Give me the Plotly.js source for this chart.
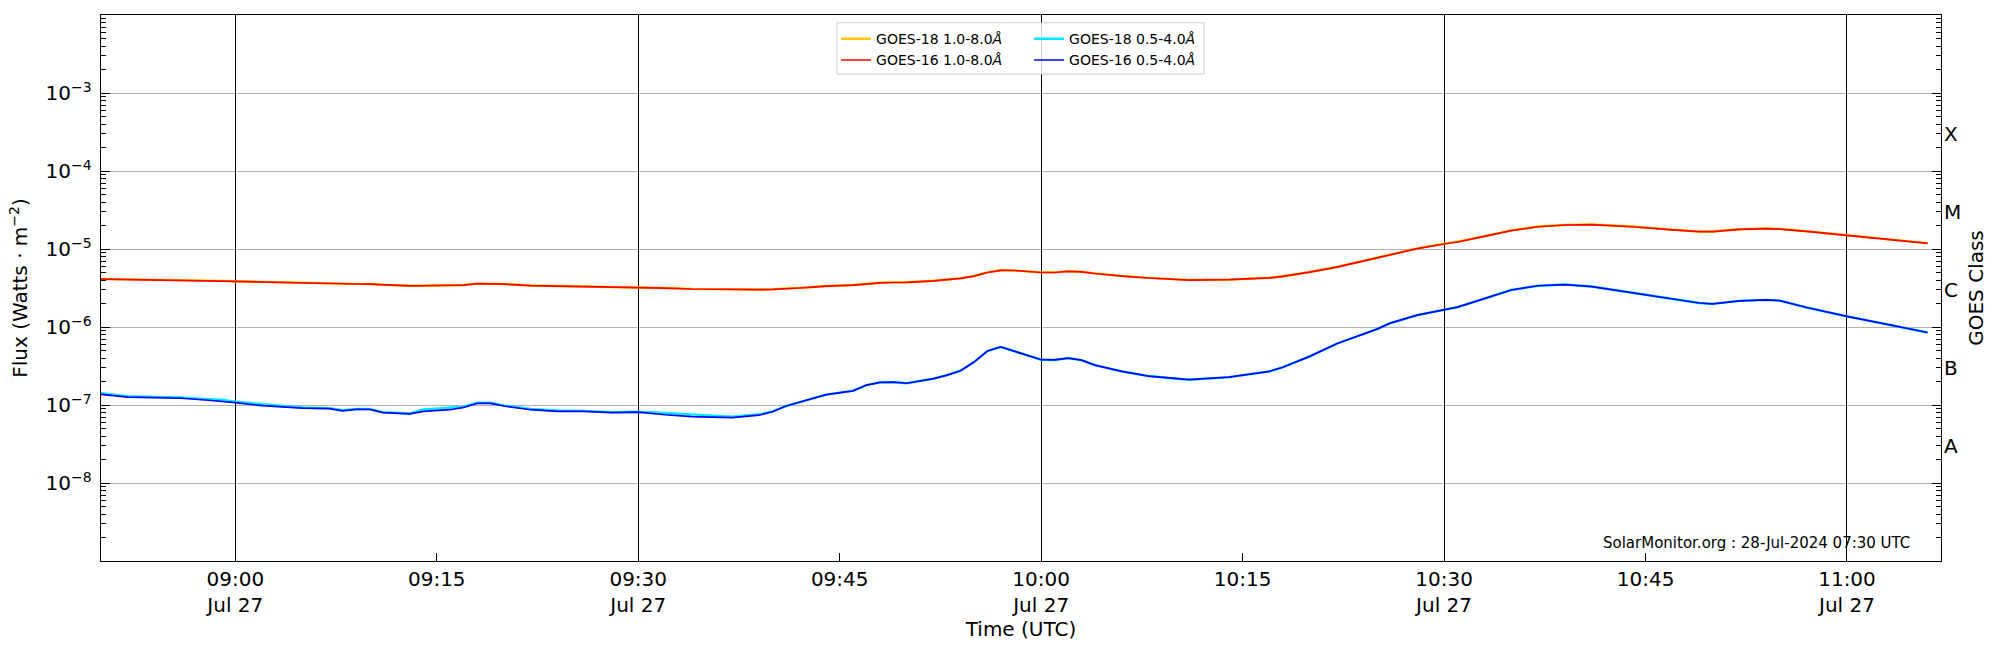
<!DOCTYPE html>
<html>
<head>
<meta charset="utf-8">
<script src="https://cdn.plot.ly/plotly-3.0.1.min.js"></script>
<style>
  html, body { margin: 0; padding: 0; background: #ffffff; }
  #goes-plot { width: 2000px; height: 650px; }
</style>
</head>
<body>
<div id="goes-plot"></div>
<script>
(function () {
    'use strict';

    const DAY = '2024-07-27';

    // Sample times (UTC, 27 Jul 2024)
    const TIMES = [
        '08:50', '08:52', '08:54', '08:56', '08:58', '08:59', '09:00', '09:02', '09:04', '09:05',
        '09:07', '09:08', '09:09', '09:10', '09:11', '09:13', '09:14', '09:16', '09:17', '09:18',
        '09:19', '09:20', '09:22', '09:24', '09:26', '09:28', '09:30', '09:32', '09:34', '09:36',
        '09:37', '09:39', '09:40', '09:41', '09:42', '09:43', '09:44', '09:46', '09:47', '09:48',
        '09:49', '09:50', '09:52', '09:53', '09:54', '09:55', '09:56', '09:57', '09:58', '09:59',
        '10:00', '10:01', '10:02', '10:03', '10:04', '10:06', '10:08', '10:11', '10:14', '10:17',
        '10:18', '10:20', '10:22', '10:25', '10:26', '10:28', '10:30', '10:31', '10:33', '10:35',
        '10:37', '10:39', '10:41', '10:44', '10:47', '10:49', '10:50', '10:52', '10:54', '10:55',
        '10:57', '11:00', '11:03', '11:06'
    ];

    // GOES-16 1.0-8.0 A (W/m^2)
    const G16_LONG = [
        4.12e-6, 4.08e-6, 4.05e-6, 4.02e-6, 3.92e-6, 3.88e-6, 3.84e-6, 3.76e-6, 3.68e-6, 3.66e-6,
        3.60e-6, 3.56e-6, 3.56e-6, 3.55e-6, 3.46e-6, 3.36e-6, 3.38e-6, 3.42e-6, 3.45e-6, 3.59e-6,
        3.59e-6, 3.55e-6, 3.40e-6, 3.36e-6, 3.33e-6, 3.28e-6, 3.22e-6, 3.15e-6, 3.07e-6, 3.02e-6,
        3.01e-6, 3.01e-6, 3.04e-6, 3.08e-6, 3.16e-6, 3.25e-6, 3.35e-6, 3.45e-6, 3.58e-6, 3.68e-6,
        3.72e-6, 3.73e-6, 3.90e-6, 4.02e-6, 4.20e-6, 4.50e-6, 5.00e-6, 5.32e-6, 5.30e-6, 5.15e-6,
        5.00e-6, 5.00e-6, 5.18e-6, 5.10e-6, 4.85e-6, 4.50e-6, 4.25e-6, 4.00e-6, 4.05e-6, 4.26e-6,
        4.45e-6, 5.05e-6, 5.85e-6, 7.70e-6, 8.40e-6, 1.01e-5, 1.16e-5, 1.23e-5, 1.45e-5, 1.72e-5,
        1.93e-5, 2.03e-5, 2.05e-5, 1.93e-5, 1.76e-5, 1.67e-5, 1.67e-5, 1.78e-5, 1.82e-5, 1.80e-5,
        1.68e-5, 1.51e-5, 1.33e-5, 1.18e-5
    ];

    // GOES-18 1.0-8.0 A (W/m^2)
    const G18_LONG = [
        4.14e-6, 4.10e-6, 4.07e-6, 4.03e-6, 3.94e-6, 3.90e-6, 3.86e-6, 3.78e-6, 3.70e-6, 3.67e-6,
        3.61e-6, 3.57e-6, 3.57e-6, 3.56e-6, 3.47e-6, 3.38e-6, 3.39e-6, 3.43e-6, 3.46e-6, 3.60e-6,
        3.60e-6, 3.56e-6, 3.41e-6, 3.37e-6, 3.34e-6, 3.29e-6, 3.23e-6, 3.16e-6, 3.08e-6, 3.03e-6,
        3.02e-6, 3.02e-6, 3.05e-6, 3.09e-6, 3.17e-6, 3.26e-6, 3.36e-6, 3.46e-6, 3.59e-6, 3.69e-6,
        3.73e-6, 3.74e-6, 3.91e-6, 4.03e-6, 4.22e-6, 4.52e-6, 5.02e-6, 5.34e-6, 5.32e-6, 5.17e-6,
        5.02e-6, 5.02e-6, 5.20e-6, 5.12e-6, 4.87e-6, 4.52e-6, 4.27e-6, 4.02e-6, 4.07e-6, 4.28e-6,
        4.47e-6, 5.07e-6, 5.88e-6, 7.73e-6, 8.43e-6, 1.02e-5, 1.17e-5, 1.24e-5, 1.46e-5, 1.73e-5,
        1.94e-5, 2.04e-5, 2.06e-5, 1.94e-5, 1.77e-5, 1.68e-5, 1.68e-5, 1.79e-5, 1.83e-5, 1.81e-5,
        1.69e-5, 1.52e-5, 1.34e-5, 1.19e-5
    ];

    // GOES-16 0.5-4.0 A (W/m^2)
    const G16_SHORT = [
        1.37e-7, 1.26e-7, 1.24e-7, 1.22e-7, 1.15e-7, 1.12e-7, 1.07e-7, 0.98e-7, 0.93e-7, 0.91e-7,
        0.90e-7, 0.84e-7, 0.88e-7, 0.88e-7, 0.80e-7, 0.77e-7, 0.83e-7, 0.87e-7, 0.93e-7, 1.05e-7,
        1.05e-7, 0.97e-7, 0.87e-7, 0.83e-7, 0.83e-7, 0.80e-7, 0.81e-7, 0.75e-7, 0.71e-7, 0.69e-7,
        0.69e-7, 0.74e-7, 0.82e-7, 0.97e-7, 1.09e-7, 1.20e-7, 1.36e-7, 1.52e-7, 1.80e-7, 1.95e-7,
        1.96e-7, 1.90e-7, 2.18e-7, 2.42e-7, 2.75e-7, 3.55e-7, 4.92e-7, 5.55e-7, 4.92e-7, 4.28e-7,
        3.81e-7, 3.78e-7, 4.00e-7, 3.76e-7, 3.25e-7, 2.70e-7, 2.35e-7, 2.11e-7, 2.28e-7, 2.70e-7,
        3.05e-7, 4.20e-7, 6.10e-7, 9.40e-7, 1.12e-6, 1.42e-6, 1.67e-6, 1.80e-6, 2.31e-6, 2.98e-6,
        3.38e-6, 3.50e-6, 3.30e-6, 2.73e-6, 2.28e-6, 2.03e-6, 1.98e-6, 2.16e-6, 2.23e-6, 2.18e-6,
        1.78e-6, 1.37e-6, 1.08e-6, 8.50e-7
    ];

    // GOES-18 0.5-4.0 A (W/m^2)
    const G18_SHORT = [
        1.42e-7, 1.30e-7, 1.27e-7, 1.25e-7, 1.19e-7, 1.17e-7, 1.10e-7, 1.03e-7, 0.96e-7, 0.93e-7,
        0.91e-7, 0.86e-7, 0.89e-7, 0.89e-7, 0.81e-7, 0.78e-7, 0.88e-7, 0.92e-7, 0.95e-7, 1.07e-7,
        1.07e-7, 0.99e-7, 0.89e-7, 0.85e-7, 0.84e-7, 0.81e-7, 0.82e-7, 0.79e-7, 0.76e-7, 0.72e-7,
        0.71e-7, 0.76e-7, 0.83e-7, 0.97e-7, 1.09e-7, 1.20e-7, 1.36e-7, 1.53e-7, 1.80e-7, 1.95e-7,
        1.96e-7, 1.90e-7, 2.18e-7, 2.42e-7, 2.75e-7, 3.55e-7, 4.92e-7, 5.55e-7, 4.92e-7, 4.28e-7,
        3.81e-7, 3.78e-7, 4.00e-7, 3.76e-7, 3.25e-7, 2.70e-7, 2.35e-7, 2.11e-7, 2.28e-7, 2.70e-7,
        3.05e-7, 4.20e-7, 6.10e-7, 9.40e-7, 1.12e-6, 1.42e-6, 1.67e-6, 1.80e-6, 2.31e-6, 2.98e-6,
        3.38e-6, 3.50e-6, 3.30e-6, 2.73e-6, 2.28e-6, 2.03e-6, 1.98e-6, 2.16e-6, 2.23e-6, 2.18e-6,
        1.78e-6, 1.37e-6, 1.08e-6, 8.50e-7
    ];

    // X axis ticks
    const TICK_TIMES = ['09:00', '09:15', '09:30', '09:45', '10:00', '10:15', '10:30', '10:45', '11:00'];
    const TICK_TEXT = ['09:00<br>Jul 27', '09:15', '09:30<br>Jul 27', '09:45', '10:00<br>Jul 27',
                       '10:15', '10:30<br>Jul 27', '10:45', '11:00<br>Jul 27'];
    const HALF_HOURS = ['09:00', '09:30', '10:00', '10:30', '11:00'];
    const X_RANGE = ['08:50', '11:07'];

    // Y axis (flux) ticks
    const FLUX_TICKS = [1e-8, 1e-7, 1e-6, 1e-5, 1e-4, 1e-3];
    const FLUX_TEXT = ['10<sup>−8</sup>', '10<sup>−7</sup>', '10<sup>−6</sup>',
                       '10<sup>−5</sup>', '10<sup>−4</sup>', '10<sup>−3</sup>'];
    const DECADES = [1e-9, 1e-8, 1e-7, 1e-6, 1e-5, 1e-4, 1e-3];
    const MINOR_STEPS = [2, 3, 4, 5, 6, 7, 8, 9];
    const Y_RANGE_LOG = [-9, -2];

    // GOES flare classes on the right
    const CLASS_LEVELS = [3e-8, 3e-7, 3e-6, 3e-5, 3e-4];
    const CLASS_LABELS = ['A', 'B', 'C', 'M', 'X'];

    const FONT = 'DejaVu Sans, Liberation Sans, sans-serif';
    const COLORS = {
        g18Long: '#ffc800',
        g16Long: '#ff0000',
        g18Short: '#00e8ff',
        g16Short: '#0000ff',
        grid: '#b0b0b0',
        frame: '#000000'
    };

    const stamp = t => DAY + ' ' + t;
    const x = TIMES.map(stamp);
    const minorTicks = [];
    DECADES.forEach(d => MINOR_STEPS.forEach(m => minorTicks.push(d * m)));

    function line(y, name, color, width, legend, xa, ya) {
        return {
            x: x, y: y, name: name, type: 'scatter', mode: 'lines',
            line: { color: color, width: width },
            legend: legend, xaxis: xa, yaxis: ya,
            hoverinfo: 'x+y+name'
        };
    }

    // GOES-18 on the base axes, GOES-16 on the overlay axes so it is drawn on top
    const traces = [
        line(G18_LONG, 'GOES-18 1.0-8.0<i>Å</i>', COLORS.g18Long, 2.4, 'legend', 'x', 'y'),
        line(G18_SHORT, 'GOES-18 0.5-4.0<i>Å</i>', COLORS.g18Short, 2.4, 'legend2', 'x', 'y'),
        line(G16_LONG, 'GOES-16 1.0-8.0<i>Å</i>', COLORS.g16Long, 1.7, 'legend', 'x2', 'y2'),
        line(G16_SHORT, 'GOES-16 0.5-4.0<i>Å</i>', COLORS.g16Short, 1.7, 'legend2', 'x2', 'y2')
    ];

    const legendBase = {
        y: 0.985, yanchor: 'top', xanchor: 'left',
        bgcolor: 'rgba(0,0,0,0)', borderwidth: 0,
        font: { family: FONT, size: 14, color: '#000' },
        traceorder: 'normal', orientation: 'v'
    };

    const layout = {
        width: 2000,
        height: 650,
        paper_bgcolor: '#ffffff',
        plot_bgcolor: '#ffffff',
        font: { family: FONT, size: 20, color: '#000' },
        margin: { l: 101, r: 59, t: 15, b: 89 },
        showlegend: true,
        legend: { ...legendBase, x: 0.3995 },
        legend2: { ...legendBase, x: 0.5044 },
        xaxis: {
            type: 'date',
            range: X_RANGE.map(stamp),
            tickmode: 'array',
            tickvals: TICK_TIMES.map(stamp),
            ticktext: TICK_TEXT,
            ticks: 'inside', ticklen: 8, tickwidth: 1, tickcolor: COLORS.frame,
            showgrid: false, zeroline: false,
            showline: true, linecolor: COLORS.frame, linewidth: 1.3, mirror: true,
            tickfont: { size: 20 },
            title: { text: 'Time (UTC)', font: { size: 20 }, standoff: 0 },
            automargin: false
        },
        xaxis2: {
            type: 'date',
            overlaying: 'x',
            anchor: 'y2',
            range: X_RANGE.map(stamp),
            tickmode: 'array',
            tickvals: HALF_HOURS.map(stamp),
            showticklabels: false, ticks: '',
            showgrid: true, gridcolor: COLORS.frame, gridwidth: 1,
            showline: false, zeroline: false
        },
        yaxis: {
            type: 'log',
            range: Y_RANGE_LOG,
            tickmode: 'array',
            tickvals: FLUX_TICKS,
            ticktext: FLUX_TEXT,
            ticks: 'inside', ticklen: 9, tickwidth: 1, tickcolor: COLORS.frame,
            minor: {
                tickmode: 'array', tickvals: minorTicks,
                ticks: 'inside', ticklen: 5, tickwidth: 1, tickcolor: COLORS.frame, showgrid: false
            },
            showgrid: true, gridcolor: COLORS.grid, gridwidth: 1,
            zeroline: false,
            showline: true, linecolor: COLORS.frame, linewidth: 1.3, mirror: 'ticks',
            tickfont: { size: 20 },
            ticklabelstandoff: 4,
            title: { text: 'Flux (Watts · m<sup>−2</sup>)', font: { size: 20 }, standoff: 12 },
            automargin: false
        },
        yaxis2: {
            type: 'log',
            overlaying: 'y',
            side: 'right',
            anchor: 'x2',
            range: Y_RANGE_LOG,
            tickmode: 'array',
            tickvals: CLASS_LEVELS,
            ticktext: CLASS_LABELS,
            ticks: '',
            minor: {
                tickmode: 'array', tickvals: minorTicks,
                ticks: 'inside', ticklen: 5, tickwidth: 1, tickcolor: COLORS.frame, showgrid: false
            },
            showgrid: false, zeroline: false, showline: false,
            tickfont: { size: 20 },
            ticklabelstandoff: 2,
            title: { text: 'GOES Class', font: { size: 20 }, standoff: 8 },
            automargin: false
        },
        shapes: [{
            type: 'rect', xref: 'paper', yref: 'paper', layer: 'above',
            x0: 0.4000, x1: 0.5995, y0: 0.8919, y1: 0.9858,
            line: { color: '#cccccc', width: 1 },
            fillcolor: 'rgba(255,255,255,0.8)'
        }],
        annotations: [{
            text: 'SolarMonitor.org : 28-Jul-2024 07:30 UTC',
            xref: 'paper', yref: 'paper', x: 0.9844, y: 0.033,
            xanchor: 'right', yanchor: 'middle', showarrow: false,
            font: { family: FONT, size: 15, color: '#000' }
        }]
    };

    Plotly.newPlot('goes-plot', traces, layout, { displayModeBar: false, staticPlot: true });
})();
</script>
</body>
</html>
